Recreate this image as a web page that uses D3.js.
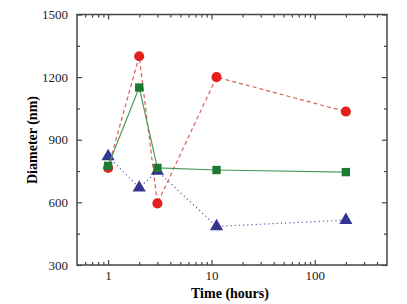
<!DOCTYPE html>
<html>
    <head>
        <meta charset="utf-8">
        <style>
            body { margin: 0; background: #fff; }
            text { font-family: "Liberation Serif", "Times New Roman", serif; }
        </style>
    </head>
    <body>
        <svg width="407" height="304"></svg>
        <script src="https://d3js.org/d3.v7.min.js"></script>
        <script>
            // hours
            let times = [1, 2, 3, 11.2, 200];
            let redVals = [765, 1300, 595, 1200, 1035];
            let greenVals = [775, 1150, 765, 755, 745];
            let blueVals = [820, 670, 750, 485, 515];

            let xMajor = [1, 10, 100];
            let xMinor = [0.6, 0.7, 0.8, 0.9, 2, 3, 4, 5, 6, 7, 8, 9,
                          20, 30, 40, 50, 60, 70, 80, 90, 200, 300, 400];
            let yMajor = [300, 600, 900, 1200, 1500];
            let yMinor = [450, 750, 1050, 1350];

            let svg = d3.select("svg");
            let pLeft = 77, pRight = 387, pTop = 14.5, pBottom = 265;

            let x = d3.scaleLog().domain([0.5, 500]).range([pLeft, pRight]);
            let y = d3.scaleLinear().domain([300, 1500]).range([pBottom, pTop]);

            let axisColor = "#444";

            function styleAxis(g) {
                g.select(".domain").remove();
                g.selectAll("line").attr("stroke", axisColor).attr("stroke-width", 1.2);
                g.selectAll("text").attr("fill", "#222").attr("font-size", 13);
            }

            // bottom
            svg.append("g").attr("transform", `translate(0,${pBottom})`)
                .call(d3.axisBottom(x).tickValues(xMajor).tickSize(-5).tickPadding(6)
                    .tickFormat(d3.format("d")))
                .call(styleAxis);
            svg.append("g").attr("transform", `translate(0,${pBottom})`)
                .call(d3.axisBottom(x).tickValues(xMinor).tickSize(-3).tickFormat(""))
                .call(styleAxis);
            // top
            svg.append("g").attr("transform", `translate(0,${pTop})`)
                .call(d3.axisTop(x).tickValues(xMajor).tickSize(-5).tickFormat(""))
                .call(styleAxis);
            svg.append("g").attr("transform", `translate(0,${pTop})`)
                .call(d3.axisTop(x).tickValues(xMinor).tickSize(-3).tickFormat(""))
                .call(styleAxis);
            // left
            svg.append("g").attr("transform", `translate(${pLeft},0)`)
                .call(d3.axisLeft(y).tickValues(yMajor).tickSize(-5).tickPadding(9)
                    .tickFormat(d3.format("d")))
                .call(styleAxis);
            svg.append("g").attr("transform", `translate(${pLeft},0)`)
                .call(d3.axisLeft(y).tickValues(yMinor).tickSize(-3).tickFormat(""))
                .call(styleAxis);
            // right
            svg.append("g").attr("transform", `translate(${pRight},0)`)
                .call(d3.axisRight(y).tickValues(yMajor).tickSize(-5).tickFormat(""))
                .call(styleAxis);
            svg.append("g").attr("transform", `translate(${pRight},0)`)
                .call(d3.axisRight(y).tickValues(yMinor).tickSize(-3).tickFormat(""))
                .call(styleAxis);

            // frame
            svg.append("rect")
                .attr("x", pLeft).attr("y", pTop)
                .attr("width", pRight - pLeft).attr("height", pBottom - pTop)
                .attr("fill", "none").attr("stroke", axisColor).attr("stroke-width", 1.5);

            // axis titles
            svg.append("text")
                .attr("x", 230).attr("y", 298)
                .attr("text-anchor", "middle")
                .attr("font-size", 14).attr("font-weight", "bold")
                .text("Time (hours)");
            svg.append("text")
                .attr("transform", "translate(37,140) rotate(-90)")
                .attr("text-anchor", "middle")
                .attr("font-size", 14).attr("font-weight", "bold")
                .text("Diameter (nm)");

            let line = d3.line().x(d => x(d[0])).y(d => y(d[1]));

            function series(vals, color, dash, lineColor, shape, size) {
                let pts = times.map((t, i) => [t, vals[i]]);
                svg.append("path")
                    .datum(pts)
                    .attr("d", line)
                    .attr("fill", "none")
                    .attr("stroke", lineColor)
                    .attr("stroke-width", 1.2)
                    .attr("stroke-dasharray", dash);
                svg.selectAll(null)
                    .data(pts)
                    .enter()
                    .append("path")
                    .attr("transform", d => `translate(${x(d[0])},${y(d[1])})`)
                    .attr("d", d3.symbol().type(shape).size(size))
                    .attr("fill", color);
            }

            series(redVals, "#e3201b", "4,3", "#d9605c", d3.symbolCircle, 80);
            series(blueVals, "#33358f", "1.2,3", "#5a5fa8", d3.symbolTriangle, 75);
            series(greenVals, "#1c7a32", null, "#4d9a5e", d3.symbolSquare, 70);
        </script>
    </body>
</html>
